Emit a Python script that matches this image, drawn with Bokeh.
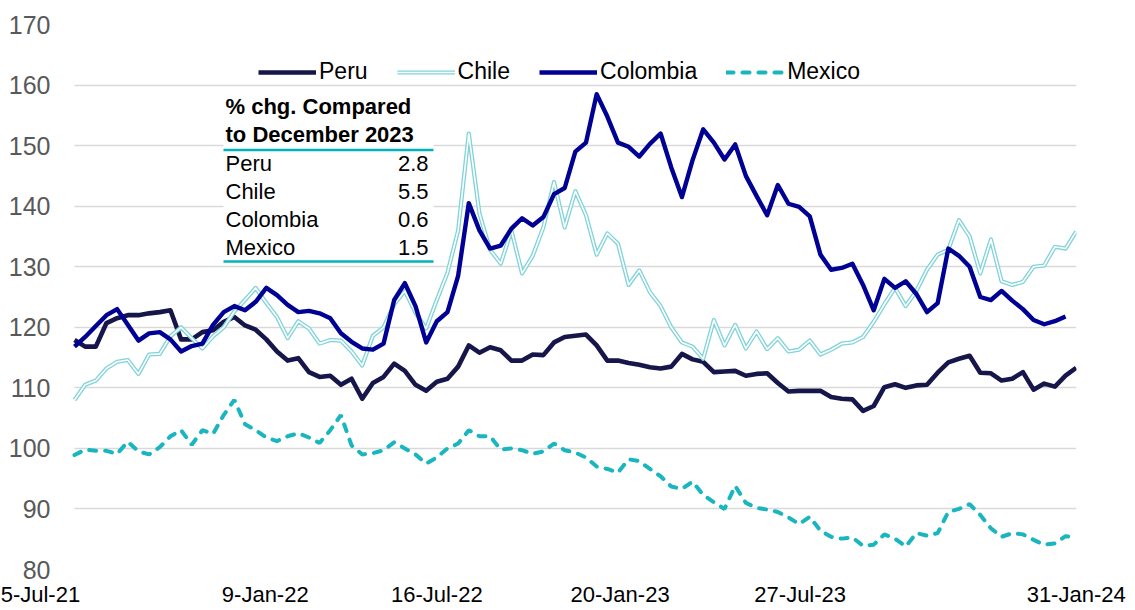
from bokeh.plotting import figure
from bokeh.models import (Range1d, FixedTicker, Legend, LegendItem, Label, BoxAnnotation)
from bokeh.embed import file_html
from bokeh.resources import INLINE

# ---------------- data ----------------
start_date = "2021-07-05"          # day 0 of the series, one point every 10 days
day = list(range(0, 941, 10))       # days since 5-Jul-21 (to 31-Jan-24)

peru = [117.9, 116.8, 116.8, 120.7, 121.5, 122.0, 122.0, 122.3, 122.5, 122.8,
        118.0, 118.0, 119.2, 119.5, 120.9, 121.7, 120.3, 119.6, 118.0, 116.0,
        114.5, 114.9, 112.6, 111.8, 112.0, 110.5, 111.5, 108.2, 110.8, 111.8,
        114.0, 112.8, 110.5, 109.5, 111.0, 111.5, 113.5, 117.0, 115.8, 116.7,
        116.2, 114.5, 114.5, 115.5, 115.4, 117.5, 118.4, 118.6, 118.8, 117.0,
        114.5, 114.5, 114.1, 113.8, 113.4, 113.2, 113.5, 115.6, 114.7, 114.3,
        112.6, 112.7, 112.8, 112.0, 112.3, 112.4, 110.8, 109.4, 109.5, 109.5,
        109.5, 108.5, 108.2, 108.1, 106.2, 107.0, 110.1, 110.6, 110.0, 110.4,
        110.5, 112.5, 114.2, 114.8, 115.3, 112.5, 112.4, 111.2, 111.5, 112.6,
        109.7, 110.7, 110.2, 112.0, 113.3]

chile = [108.0, 110.5, 111.2, 113.2, 114.3, 114.6, 112.3, 115.5, 115.6, 118.5,
         120.0, 118.2, 116.5, 118.5, 120.0, 122.6, 124.5, 126.5, 124.0, 121.7,
         118.2, 121.0, 119.8, 117.3, 117.9, 117.8, 116.0, 113.7, 118.6, 120.0,
         123.8, 126.0, 122.4, 119.8, 124.5, 129.0, 136.0, 152.0, 138.8, 132.8,
         130.5, 136.0, 128.9, 131.8, 136.5, 144.0, 136.5, 142.5, 138.5, 132.0,
         135.5, 133.8, 127.0, 129.4, 125.8, 123.5, 120.0, 117.5, 116.8, 114.8,
         121.2, 117.0, 120.4, 116.5, 119.3, 116.4, 118.2, 116.0, 116.3, 117.8,
         115.5, 116.3, 117.3, 117.5, 118.4, 120.9, 123.8, 126.5, 123.5, 126.0,
         129.5, 132.0, 132.8, 137.7, 135.0, 128.9, 134.5, 127.6, 127.0, 127.5,
         130.0, 130.2, 133.3, 133.0, 135.8]

colombia = [116.8, 118.4, 120.2, 122.0, 123.0, 120.4, 117.8, 119.0, 119.2, 118.0,
            116.0, 116.9, 117.3, 120.4, 122.5, 123.5, 122.8, 124.2, 126.5, 125.3,
            123.7, 122.5, 122.7, 122.3, 121.5, 119.0, 117.6, 116.5, 116.3, 117.3,
            124.5, 127.3, 123.5, 117.5, 121.0, 122.5, 128.5, 140.5, 136.0, 133.0,
            133.5, 136.3, 138.0, 136.8, 138.2, 142.0, 143.0, 149.0, 150.5, 158.5,
            154.8, 150.5, 149.8, 148.2, 150.3, 152.0, 146.4, 141.5, 147.6, 152.7,
            150.5, 147.7, 150.2, 145.0, 141.7, 138.5, 143.5, 140.4, 139.9, 138.3,
            132.0, 129.5, 129.8, 130.5, 127.0, 122.8, 128.0, 126.5, 127.6, 125.5,
            122.5, 124.0, 133.0, 131.8, 130.0, 125.0, 124.5, 126.0, 124.4, 123.0,
            121.2, 120.5, 121.0, 121.8]

mexico = [98.9, 99.8, 99.6, 99.6, 99.1, 101.1, 99.5, 99.0, 100.2, 102.0,
          103.0, 100.6, 103.0, 102.4, 105.5, 108.0, 104.0, 103.0, 101.8, 101.2,
          102.0, 102.5, 101.8, 100.9, 103.0, 105.5, 100.5, 99.0, 99.2, 99.7,
          101.0, 100.0, 99.0, 97.5, 98.5, 100.0, 100.8, 103.0, 102.0, 102.0,
          99.8, 100.0, 99.7, 99.1, 99.5, 100.8, 99.7, 99.3, 98.5, 97.0,
          96.6, 96.0, 98.2, 97.9, 96.6, 95.4, 93.7, 93.3, 94.5, 92.3,
          91.1, 90.0, 93.8, 91.0, 90.2, 89.9, 89.5, 88.6, 87.5, 88.7,
          86.4, 85.4, 85.1, 85.3, 83.9, 84.1, 85.8, 85.1, 83.8, 86.0,
          85.6, 86.0, 89.5, 90.0, 90.8, 89.0, 86.8, 85.4, 86.0, 85.8,
          84.9, 84.1, 84.3, 85.5, 85.3]

y_ticks = [80, 90, 100, 110, 120, 130, 140, 150, 160, 170]
x_tick_labels = ["5-Jul-21", "9-Jan-22", "16-Jul-22", "20-Jan-23", "27-Jul-23", "31-Jan-24"]
x_tick_days = [-32, 179, 340, 512, 681, 940]   # where the labels sit along the axis

table_title = ["% chg. Compared", "to December 2023"]
table_countries = ["Peru", "Chile", "Colombia", "Mexico"]
table_values = ["2.8", "5.5", "0.6", "1.5"]

# ---------------- style ----------------
FONT = "Liberation Sans"
C_PERU = "#16164a"
C_CHILE = "#7fd3d9"
C_COL = "#000094"
C_MEX = "#19b6bf"
C_RULE = "#00b3bb"

p = figure(width=1135, height=610, output_backend="svg", toolbar_location=None,
           x_range=Range1d(-41.3, 940.3), y_range=Range1d(80, 170),
           min_border_left=30, min_border_right=59, min_border_top=24, min_border_bottom=41)
p.outline_line_color = None
p.background_fill_color = "white"
p.border_fill_color = "white"

# keep the grid from showing left of the first observation
p.add_layout(BoxAnnotation(right=0, fill_color="white", fill_alpha=1, line_color=None,
                           level="underlay"))

r_peru = p.line(day, peru, line_color=C_PERU, line_width=4.6, line_join="round")
r_chile_o = p.line(day, chile, line_color=C_CHILE, line_width=4.2, line_join="round")
r_chile_i = p.line(day, chile, line_color="white", line_width=1.6, line_join="round")
r_col = p.line(day[:len(colombia)], colombia, line_color=C_COL, line_width=4.4, line_join="round")
r_mex = p.line(day, mexico, line_color=C_MEX, line_width=4, line_dash="7 9", line_cap="round")

# axes
p.yaxis.ticker = FixedTicker(ticks=y_ticks)
p.yaxis.axis_line_color = None
p.yaxis.major_tick_line_color = None
p.yaxis.minor_tick_line_color = None
p.yaxis.major_tick_out = 0
p.yaxis.major_label_standoff = -20
p.yaxis.major_label_text_font = FONT
p.yaxis.major_label_text_font_size = "25px"
p.yaxis.major_label_text_color = "#595959"

p.xaxis.ticker = FixedTicker(ticks=x_tick_days)
p.xaxis.major_label_overrides = {d: t for d, t in zip(x_tick_days, x_tick_labels)}
p.xaxis.axis_line_color = None
p.xaxis.major_tick_line_color = None
p.xaxis.minor_tick_line_color = None
p.xaxis.major_tick_out = 0
p.xaxis.major_label_standoff = 12
p.xaxis.major_label_text_font = FONT
p.xaxis.major_label_text_font_size = "22px"
p.xaxis.major_label_text_color = "#000000"

p.xgrid.grid_line_color = None
p.ygrid.grid_line_color = "#d9d9d9"
p.ygrid.grid_line_width = 1.5

# legend
legend = Legend(items=[LegendItem(label="Peru", renderers=[r_peru]),
                       LegendItem(label="Chile", renderers=[r_chile_o, r_chile_i]),
                       LegendItem(label="Colombia", renderers=[r_col]),
                       LegendItem(label="Mexico", renderers=[r_mex])],
                orientation="horizontal", location=(228, 484),
                glyph_width=58, glyph_height=26, label_height=26, label_standoff=3,
                spacing=29, padding=0, margin=0,
                border_line_color=None, background_fill_alpha=0,
                label_text_font=FONT, label_text_font_size="23px", label_text_color="#000000")
p.add_layout(legend)

# inset table (screen units relative to the plot frame)
TL, TR = 193, 403
p.add_layout(BoxAnnotation(left=TL, right=TR, bottom=305.5, top=479,
                           left_units="screen", right_units="screen",
                           bottom_units="screen", top_units="screen",
                           fill_color="white", fill_alpha=1, line_color=None))
for yb in (419.5, 308.0):
    p.add_layout(BoxAnnotation(left=TL, right=TR, bottom=yb - 1.2, top=yb + 1.2,
                               left_units="screen", right_units="screen",
                               bottom_units="screen", top_units="screen",
                               fill_color=C_RULE, fill_alpha=1, line_color=None))
for i, t in enumerate(table_title):
    p.add_layout(Label(x=TL + 2, y=463 - 28 * i, x_units="screen", y_units="screen", text=t,
                       text_font=FONT, text_font_size="22px", text_font_style="bold",
                       text_color="#000000", text_baseline="alphabetic"))
for i, (c, v) in enumerate(zip(table_countries, table_values)):
    yy = 406 - 28 * i
    p.add_layout(Label(x=TL + 2, y=yy, x_units="screen", y_units="screen", text=c,
                       text_font=FONT, text_font_size="22px", text_color="#000000",
                       text_baseline="alphabetic"))
    p.add_layout(Label(x=TR - 5, y=yy, x_units="screen", y_units="screen", text=v,
                       text_font=FONT, text_font_size="22px", text_color="#000000",
                       text_baseline="alphabetic", text_align="right"))

open("out.html", "w").write(file_html(p, INLINE))
